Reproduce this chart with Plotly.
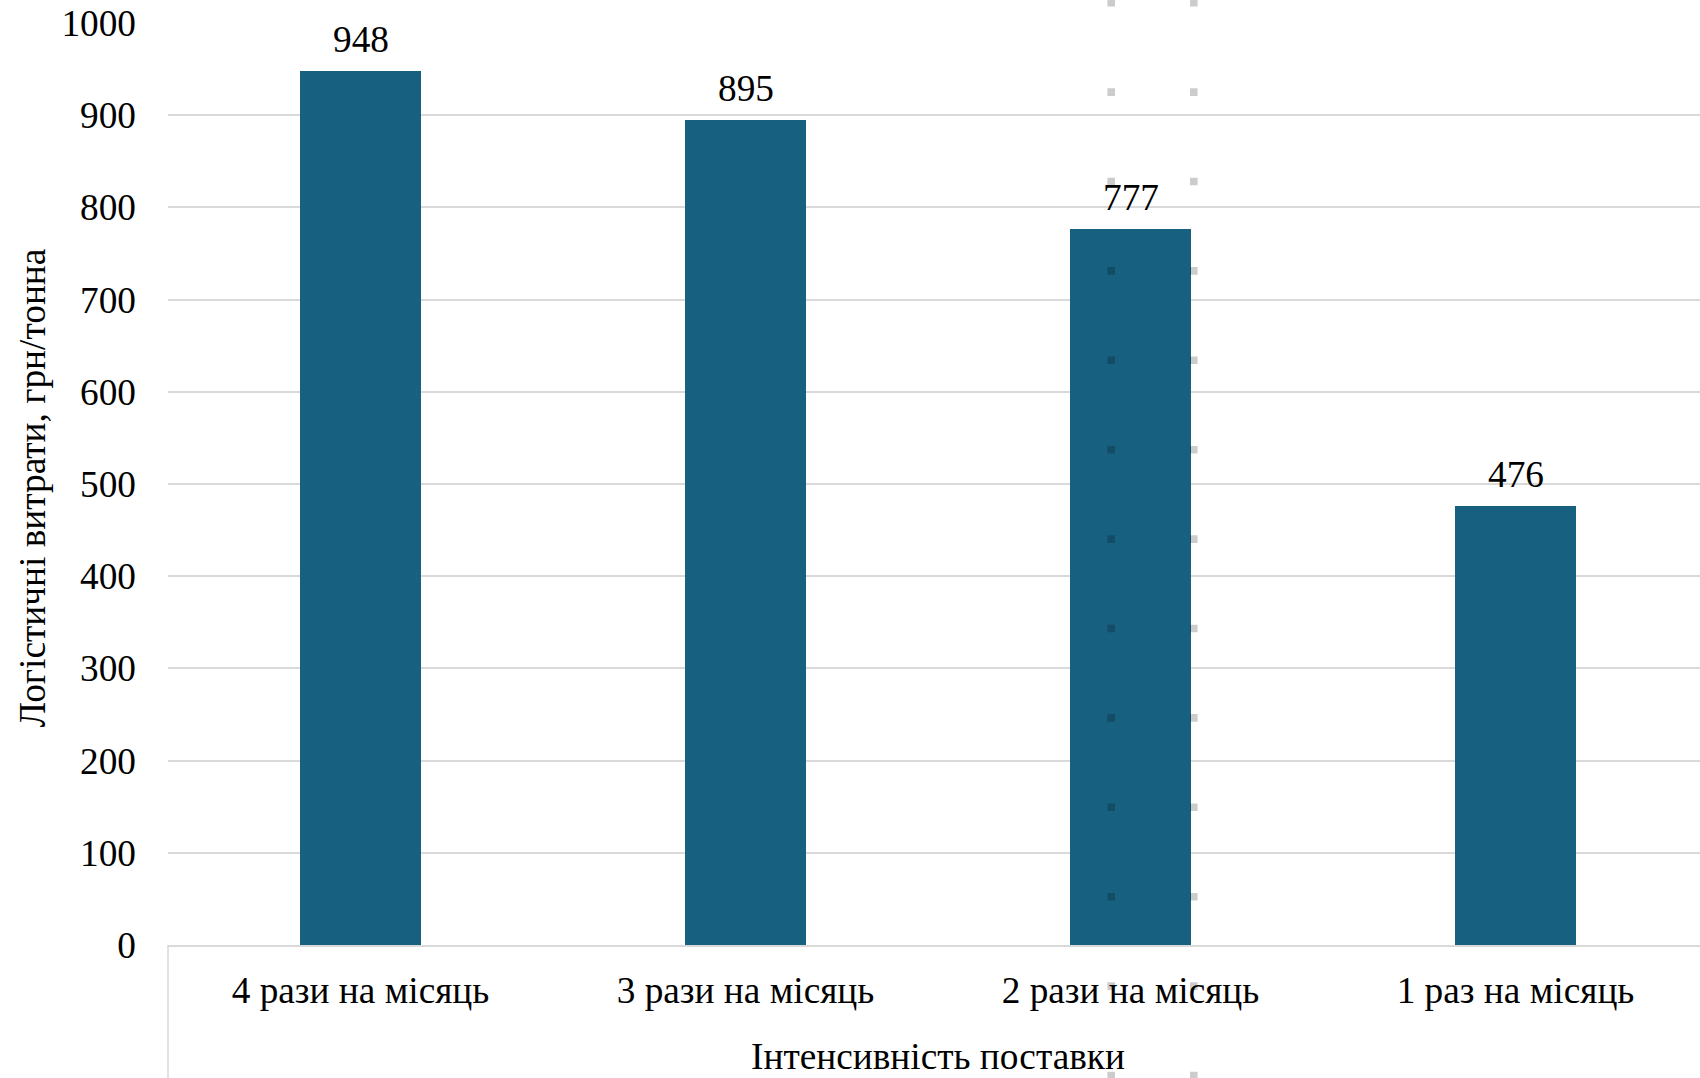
import plotly.graph_objects as go

categories = ["4 рази на місяць", "3 рази на місяць", "2 рази на місяць", "1 раз на місяць"]
values = [948, 895, 777, 476]
y_ticks = [0, 100, 200, 300, 400, 500, 600, 700, 800, 900, 1000]
x_title = "Інтенсивність поставки"
y_title = "Логістичні витрати, грн/тонна"

BAR_COLOR = "#17607f"
GRID = "#d9d9d9"
FONT = "Liberation Serif"
FS = 37.3

W, H = 1700, 1078
ML, MR, MT, MB = 168, 0, 23, 133
plot_w = W - ML - MR
plot_h = H - MT - MB
cat_px = 385.0
n = len(categories)
x_max = -0.5 + plot_w / cat_px

fig = go.Figure()
fig.add_trace(go.Bar(
    x=list(range(n)), y=values,
    marker=dict(color=BAR_COLOR, line=dict(width=0)),
    width=121 / cat_px,
    hoverinfo="skip",
))

for i, v in enumerate(values):
    fig.add_annotation(
        x=i, y=v, xref="x", yref="y", text=str(v), showarrow=False,
        yanchor="bottom", yshift=9,
        font=dict(family=FONT, size=FS, color="black"),
    )

# axis titles
fig.add_annotation(
    x=(n - 1) / 2, xref="x", y=-(1056 - (MT + plot_h)) / plot_h, yref="paper",
    text=x_title, showarrow=False, xanchor="center", yanchor="middle",
    font=dict(family=FONT, size=FS, color="black"),
)
fig.add_annotation(
    x=(32.5 - ML) / plot_w, xref="paper", y=0.496, yref="paper",
    text=y_title, showarrow=False, textangle=-90,
    xanchor="center", yanchor="middle",
    font=dict(family=FONT, size=FS, color="black"),
)

# vertical line below the category axis at the left edge
fig.add_shape(type="line", xref="paper", yref="paper",
              x0=0, x1=0, y0=0, y1=-MB / plot_h,
              line=dict(color=GRID, width=1.5), layer="above")

# faint dotted vertical guide lines
for px in (1111.2, 1193.8):
    xp = (px - ML) / plot_w
    fig.add_shape(type="line", xref="paper", yref="paper",
                  x0=xp, x1=xp, y0=(MT + plot_h + 1.1) / plot_h, y1=-MB / plot_h,
                  line=dict(color="rgba(0,0,0,0.2)", width=7.6, dash="7.6px,81.8px"),
                  layer="above")

fig.update_layout(
    width=W, height=H,
    margin=dict(l=ML, r=MR, t=MT, b=MB, pad=0),
    paper_bgcolor="white", plot_bgcolor="white",
    showlegend=False,
    font=dict(family=FONT, size=FS, color="black"),
    bargap=0,
)
fig.update_xaxes(
    range=[-0.5, x_max],
    tickmode="array", tickvals=list(range(n)), ticktext=categories,
    showgrid=False, zeroline=False,
    showline=True, linecolor=GRID, linewidth=1.5,
    ticks="", ticklabelstandoff=11,
    tickfont=dict(family=FONT, size=FS, color="black"),
)
fig.update_yaxes(
    range=[0, 1000],
    tickmode="array", tickvals=y_ticks,
    showgrid=True, gridcolor=GRID, gridwidth=1.5,
    zeroline=False, showline=False, ticks="",
    ticklabelstandoff=31,
    tickfont=dict(family=FONT, size=FS, color="black"),
)

fig.write_html("out.html")
